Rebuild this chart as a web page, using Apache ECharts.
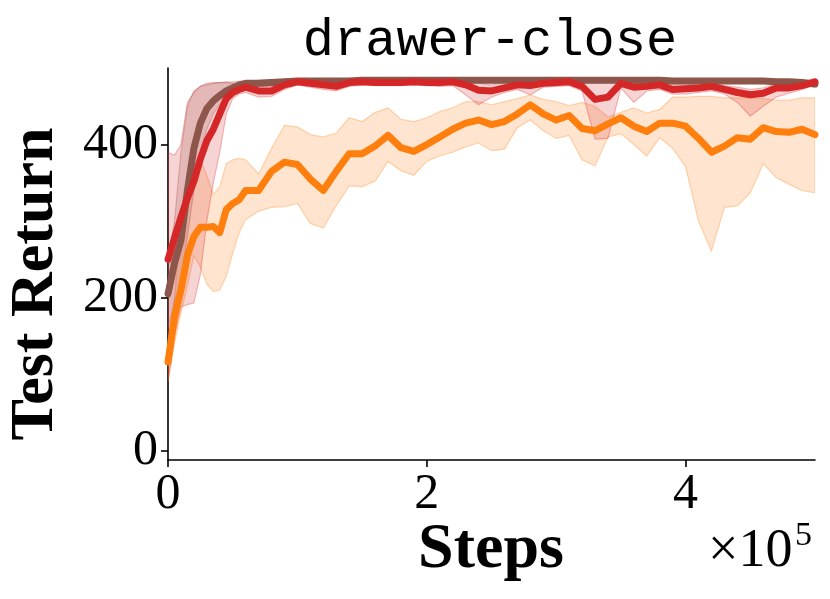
<!DOCTYPE html>
<html>
<head>
<meta charset="utf-8">
<script src="https://cdn.jsdelivr.net/npm/echarts@6/dist/echarts.min.js"></script>
<style>
  html, body { margin: 0; padding: 0; background: #fff; }
  #chart { width: 830px; height: 599px; }
</style>
</head>
<body>
<div id="chart"></div>
<script>
// steps, in units of 1e5
const steps = [0, 0.05, 0.1, 0.15, 0.2, 0.25, 0.3, 0.35, 0.4, 0.45, 0.5, 0.55, 0.6,
  0.7, 0.8, 0.9, 1.0,
  1.1, 1.2, 1.3, 1.4, 1.5, 1.6, 1.7, 1.8, 1.9, 2.0,
  2.1, 2.2, 2.3, 2.4, 2.5, 2.6, 2.7, 2.8, 2.9, 3.0,
  3.1, 3.2, 3.3, 3.4, 3.5, 3.6, 3.7, 3.8, 3.9, 4.0,
  4.1, 4.2, 4.3, 4.4, 4.5, 4.6, 4.7, 4.8, 4.9, 5.0];

const orangeMean = [116, 175, 210, 255, 280, 292, 292, 293, 285, 315, 323, 328, 340,
  340, 365, 377, 374,
  355, 340, 365, 388, 388, 398, 412, 396, 391, 400,
  410, 420, 428, 432, 426, 430, 440, 452, 440, 432,
  438, 421, 418, 427, 435, 424, 417, 428, 428, 424,
  408, 390, 398, 409, 407, 422, 417, 416, 420, 413];
const orangeHigh = [130, 200, 300, 340, 372, 380, 360, 335, 345, 375, 380, 382, 380,
  362, 395, 425, 423,
  413, 410, 415, 435, 430, 442, 448, 433, 430, 435,
  443, 448, 456, 456, 452, 456, 460, 465, 459, 456,
  451, 455, 450, 436, 442, 448, 441, 446, 462, 462,
  463, 463, 461, 461, 461, 460, 458, 458, 461, 461];
const orangeLow = [90, 140, 180, 215, 255, 240, 218, 208, 210, 228, 258, 285, 302,
  313, 318, 319, 323,
  297, 291, 320, 346, 345, 352, 378, 366, 360, 378,
  385, 390, 397, 402, 392, 394, 422, 432, 418, 408,
  412, 380, 372, 410, 414, 400, 385, 409, 395, 371,
  300, 261, 318, 320, 337, 375, 357, 348, 340, 337];

const brownMean = [205, 245, 275, 340, 395, 428, 447, 457, 464, 470, 474, 478, 480,
  480, 481, 482, 483,
  483, 483, 483, 483, 484, 484, 484, 484, 484, 484,
  484, 484, 484, 484, 484, 484, 484, 484, 484, 484,
  484, 484, 484, 484, 484, 484, 484, 484, 483, 483,
  483, 483, 483, 483, 483, 483, 482, 482, 481, 479];
const brownHigh = [250, 300, 390, 450, 470, 476, 478, 480, 481, 482, 482, 483, 483,
  484, 485, 485, 486,
  486, 486, 486, 486, 487, 487, 487, 487, 487, 487,
  487, 487, 487, 487, 487, 487, 487, 487, 487, 487,
  487, 487, 487, 487, 487, 487, 487, 487, 486, 486,
  486, 486, 486, 486, 486, 486, 485, 485, 484, 483];
const brownLow = [160, 195, 220, 280, 340, 390, 420, 440, 452, 460, 466, 470, 474,
  476, 477, 478, 480,
  480, 480, 480, 480, 481, 481, 481, 481, 481, 481,
  481, 481, 481, 481, 481, 481, 481, 481, 481, 481,
  481, 481, 481, 481, 481, 481, 481, 481, 480, 480,
  480, 480, 480, 480, 480, 480, 479, 479, 478, 475];

const redMean = [250, 278, 305, 330, 352, 381, 405, 420, 440, 460, 468, 472, 475,
  470, 470, 478, 482,
  480, 478, 476, 481, 482, 481, 481, 481, 482, 481,
  481, 482, 478, 471, 470, 474, 478, 477, 480, 481,
  482, 476, 459, 462, 480, 475, 476, 478, 472, 473,
  474, 476, 472, 468, 465, 467, 474, 474, 477, 482];
const redHigh = [390, 386, 400, 455, 468, 476, 480, 481, 481, 481, 480, 479, 479,
  476, 476, 481, 485,
  484, 483, 481, 485, 486, 485, 485, 485, 486, 485,
  485, 486, 484, 480, 478, 481, 483, 482, 484, 485,
  486, 483, 484, 484, 485, 480, 480, 484, 478, 478,
  479, 481, 477, 475, 472, 474, 479, 480, 482, 486];
const redLow = [90, 150, 188, 191, 193, 230, 300, 350, 390, 440, 460, 466, 468,
  462, 463, 472, 478,
  475, 472, 470, 476, 478, 477, 477, 477, 478, 477,
  476, 477, 465, 452, 462, 468, 472, 465, 475, 476,
  477, 470, 407, 408, 474, 455, 470, 472, 466, 466,
  468, 470, 466, 455, 437, 450, 462, 467, 472, 478];

const xTicks = [0, 2, 4];
const yTicks = [0, 200, 400];

const ORANGE = '#ff7f0e', BROWN = '#8c564b', RED = '#d62728';

function fade(hex, a) {
  const n = parseInt(hex.slice(1), 16);
  return 'rgba(' + (n >> 16) + ',' + ((n >> 8) & 255) + ',' + (n & 255) + ',' + a + ')';
}

function band(color, low, high) {
  return {
    type: 'custom',
    clip: true,
    silent: true,
    data: [[0, 0]],
    renderItem: function (params, api) {
      const top = steps.map((x, i) => api.coord([x, high[i]]));
      const bot = steps.map((x, i) => api.coord([x, low[i]])).reverse();
      return {
        type: 'polygon',
        shape: { points: top.concat(bot) },
        style: { fill: fade(color, 0.2), stroke: fade(color, 0.3), lineWidth: 1.2 }
      };
    }
  };
}

function line(color, mean) {
  return {
    type: 'line',
    data: steps.map((x, i) => [x, mean[i]]),
    showSymbol: false,
    clip: true,
    lineStyle: { color: color, width: 7, cap: 'round', join: 'round' },
    itemStyle: { color: color }
  };
}

const serif = '"Liberation Serif", "DejaVu Serif", serif';

let chart = echarts.init(document.getElementById('chart'));
chart.setOption({
  animation: false,
  backgroundColor: '#fff',
  grid: { left: 168, right: 15, top: 68, bottom: 139, containLabel: false, outerBoundsMode: 'none' },
  xAxis: {
    type: 'value',
    min: 0, max: 5,
    splitLine: { show: false },
    axisLine: { show: true, onZero: false, lineStyle: { color: '#000', width: 1.6 } },
    axisTick: { show: true, customValues: xTicks, length: 7, lineStyle: { color: '#000', width: 1.6 } },
    axisLabel: { customValues: xTicks, color: '#000', fontSize: 50, fontFamily: serif, margin: 10 }
  },
  yAxis: {
    type: 'value',
    min: -12, max: 500,
    splitLine: { show: false },
    axisLine: { show: true, onZero: false, lineStyle: { color: '#000', width: 1.6 } },
    axisTick: { show: true, customValues: yTicks, length: 7, lineStyle: { color: '#000', width: 1.6 } },
    axisLabel: { customValues: yTicks, color: '#000', fontSize: 50, fontFamily: serif, margin: 10 }
  },
  series: [
    band(ORANGE, orangeLow, orangeHigh),
    band(BROWN, brownLow, brownHigh),
    band(RED, redLow, redHigh),
    line(ORANGE, orangeMean),
    line(BROWN, brownMean),
    line(RED, redMean)
  ],
  graphic: [
    { type: 'text', x: 490, y: 41, style: { text: 'drawer-close', align: 'center', verticalAlign: 'middle',
        font: '52px "Liberation Mono", "DejaVu Sans Mono", monospace', fill: '#000' } },
    { type: 'text', x: 36, y: 284, rotation: Math.PI / 2, style: { text: 'Test Return', align: 'center', verticalAlign: 'middle',
        font: 'bold 62px ' + serif, fill: '#000' } },
    { type: 'text', x: 491, y: 550, style: { text: 'Steps', align: 'center', verticalAlign: 'middle',
        font: 'bold 64px ' + serif, fill: '#000' } },
    { type: 'text', x: 708, y: 552, style: { text: '×10', align: 'left', verticalAlign: 'middle',
        font: '54px ' + serif, fill: '#000' } },
    { type: 'text', x: 795, y: 536, style: { text: '5', align: 'left', verticalAlign: 'middle',
        font: '34px ' + serif, fill: '#000' } }
  ]
});
</script>
</body>
</html>
